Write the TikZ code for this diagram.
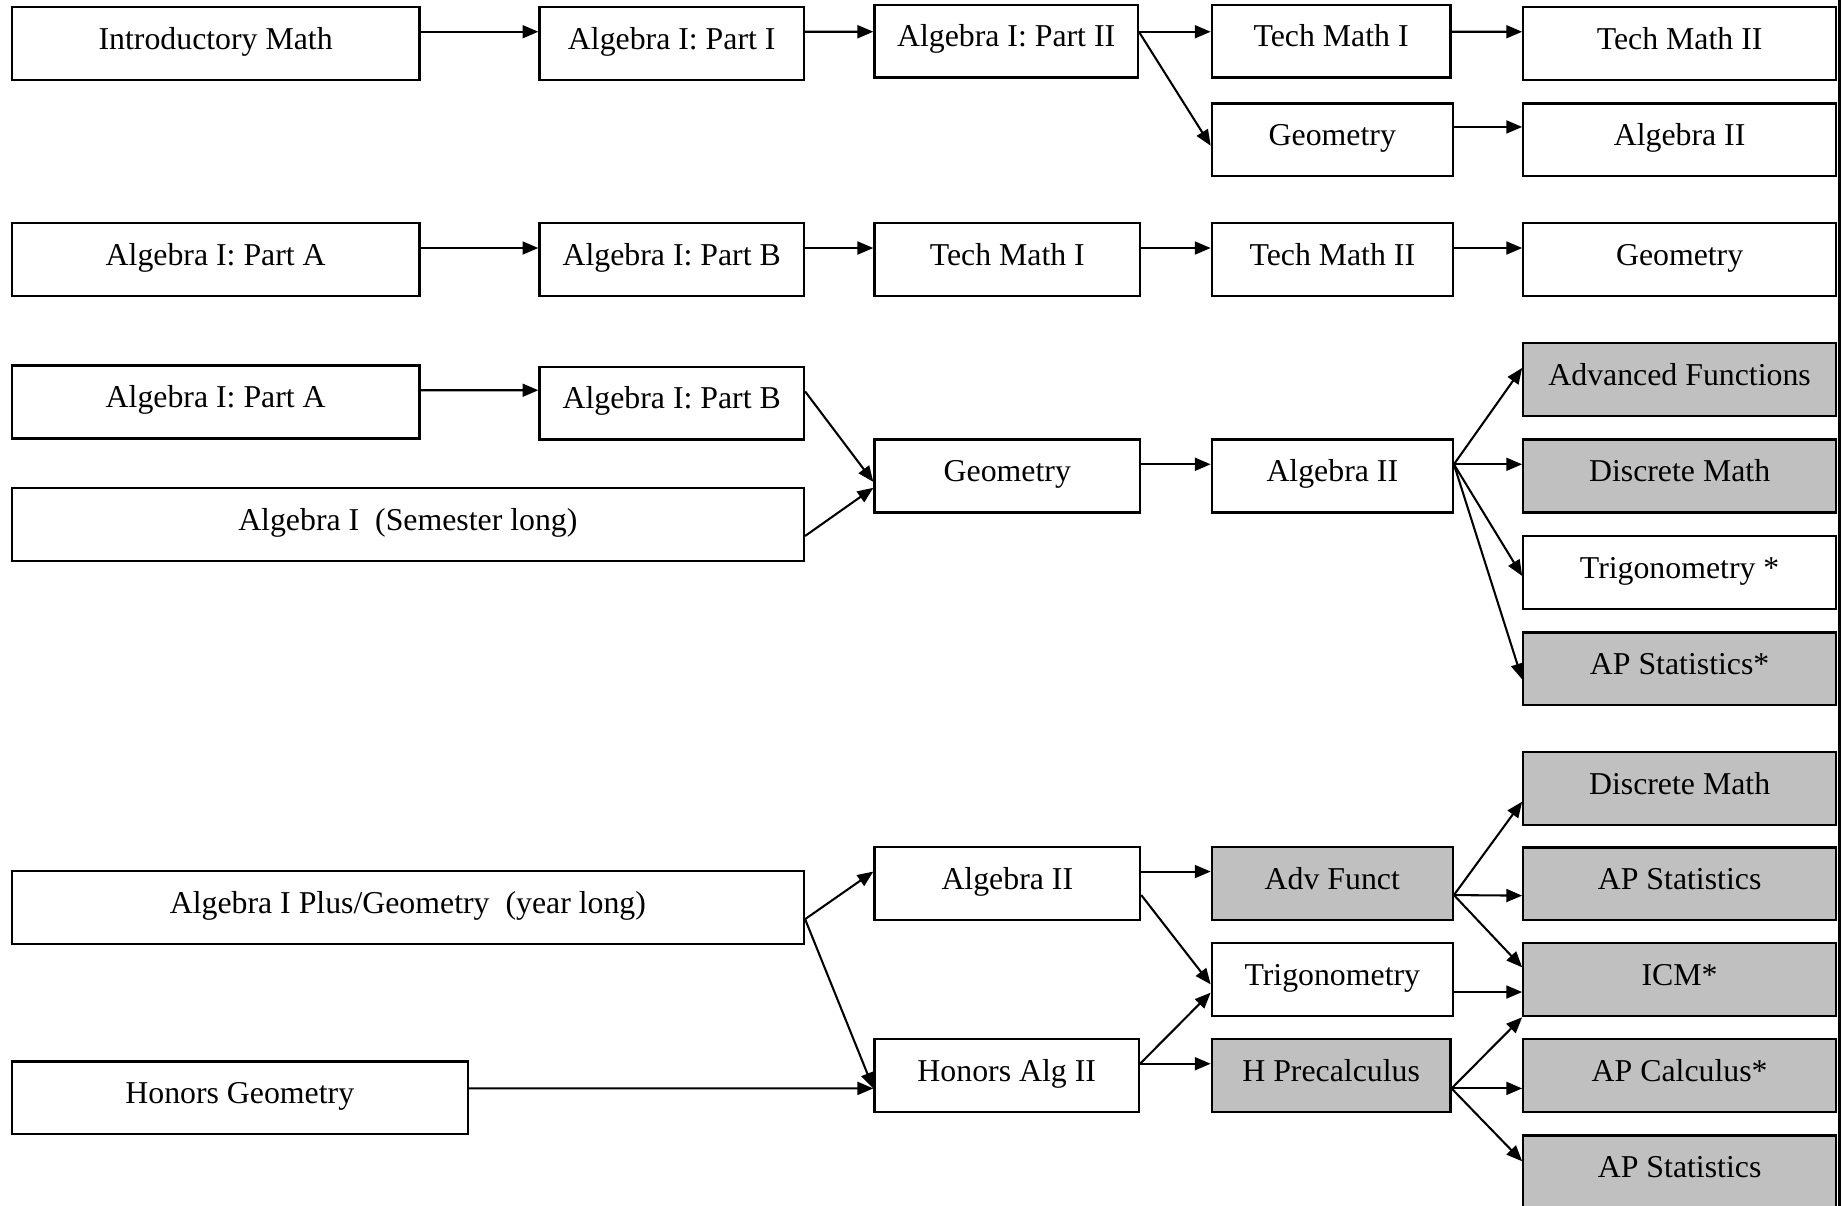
\documentclass[tikz,border=0pt]{standalone}
\usepackage{fontspec}
\setmainfont{Liberation Serif}
\usetikzlibrary{arrows.meta}
\definecolor{silver}{RGB}{192,192,192}
\begin{document}
\begin{tikzpicture}[x=0.1mm, y=-0.1mm,
		course/.style={draw, line width=0.55pt, minimum height=6.2mm, inner sep=0pt,
			font=\fontsize{7.7}{9}\selectfont, text height=6.2pt, text depth=3.4pt},
		elective/.style={course, fill=silver},
		arr/.style={line width=0.5pt, -{Triangle[length=1.35mm, width=1.1mm]}}]
		\useasboundingbox (0,0) rectangle (1568,1026);
		\node[course, minimum width=34.7mm] (intro) at (183.5, 37) {Introductory Math};
		\node[course, minimum width=22.5mm] (a1p1) at (571.5, 37) {Algebra I: Part I};
		\node[course, minimum width=22.4mm] (a1p2) at (856, 35) {Algebra I: Part II};
		\node[course, minimum width=20.3mm] (tm1) at (1132.5, 35) {Tech Math I};
		\node[course, minimum width=26.6mm] (tm2) at (1429, 37) {Tech Math II};
		\node[course, minimum width=20.5mm] (geo1) at (1133.5, 119) {Geometry};
		\node[course, minimum width=26.6mm] (alg2a) at (1429, 119) {Algebra II};
		\node[course, minimum width=34.7mm] (a1pa) at (183.5, 221) {Algebra I: Part A};
		\node[course, minimum width=22.5mm] (a1pb) at (571.5, 221) {Algebra I: Part B};
		\node[course, minimum width=22.6mm] (tm1b) at (857, 221) {Tech Math I};
		\node[course, minimum width=20.5mm] (tm2b) at (1133.5, 221) {Tech Math II};
		\node[course, minimum width=26.6mm] (geo2) at (1429, 221) {Geometry};
		\node[course, minimum width=34.7mm] (a1pa3) at (183.5, 342) {Algebra I: Part A};
		\node[course, minimum width=22.5mm] (a1pb3) at (571.5, 343) {Algebra I: Part B};
		\node[course, minimum width=67.4mm] (sem) at (347, 446) {Algebra I~~(Semester long)};
		\node[course, minimum width=22.6mm] (geo3) at (857, 405) {Geometry};
		\node[course, minimum width=20.5mm] (alg2b) at (1133.5, 405) {Algebra II};
		\node[elective, minimum width=26.6mm] (advf) at (1429, 323) {Advanced Functions};
		\node[elective, minimum width=26.6mm] (disc1) at (1429, 405) {Discrete Math};
		\node[course, minimum width=26.6mm] (trig1) at (1429, 487) {Trigonometry *};
		\node[elective, minimum width=26.6mm] (aps1) at (1429, 569) {AP Statistics*};
		\node[elective, minimum width=26.6mm] (disc2) at (1429, 671) {Discrete Math};
		\node[course, minimum width=22.6mm] (alg2c) at (857, 751.5) {Algebra II};
		\node[elective, minimum width=20.5mm] (advf2) at (1133.5, 751.5) {Adv Funct};
		\node[elective, minimum width=26.6mm] (aps2) at (1429, 752) {AP Statistics};
		\node[course, minimum width=67.4mm] (plus) at (347, 772) {Algebra I Plus/Geometry~~(year long)};
		\node[course, minimum width=20.5mm] (trig2) at (1133.5, 833.5) {Trigonometry};
		\node[elective, minimum width=26.6mm] (icm) at (1429, 833.5) {ICM*};
		\node[course, minimum width=38.8mm] (hgeo) at (204, 934) {Honors Geometry};
		\node[course, minimum width=22.5mm] (halg2) at (856.5, 915) {Honors Alg II};
		\node[elective, minimum width=20.3mm] (hpre) at (1132.5, 915) {H Precalculus};
		\node[elective, minimum width=26.6mm] (apc) at (1429, 915) {AP Calculus*};
		\node[elective, minimum width=26.6mm] (aps3) at (1429, 997) {AP Statistics};
		\draw[arr] ([yshift=1mm]intro.east) -- ([yshift=1mm]a1p1.west);
		\draw[arr] ([yshift=1mm]a1p1.east) -- ([yshift=0.8mm]a1p2.west);
		\draw[arr] ([yshift=0.8mm]a1p2.east) -- ([yshift=0.8mm]tm1.west);
		\draw[arr] ([yshift=0.8mm]a1p2.east) -- ([yshift=-0.5mm]geo1.west);
		\draw[arr] ([yshift=0.8mm]tm1.east) -- ([yshift=1mm]tm2.west);
		\draw[arr] ([yshift=1.1mm]geo1.east) -- ([yshift=1.1mm]alg2a.west);
		\draw[arr] ([yshift=1mm]a1pa.east) -- ([yshift=1mm]a1pb.west);
		\draw[arr] ([yshift=1mm]a1pb.east) -- ([yshift=1mm]tm1b.west);
		\draw[arr] ([yshift=1mm]tm1b.east) -- ([yshift=1mm]tm2b.west);
		\draw[arr] ([yshift=1mm]tm2b.east) -- ([yshift=1mm]geo2.west);
		\draw[arr] ([yshift=1mm]a1pa3.east) -- ([yshift=1.1mm]a1pb3.west);
		\draw[arr] ([yshift=1mm]a1pb3.east) -- ([yshift=-0.5mm]geo3.west);
		\draw[arr] ([yshift=-1mm]sem.east) -- ([yshift=-1mm]geo3.west);
		\draw[arr] ([yshift=1mm]geo3.east) -- ([yshift=1mm]alg2b.west);
		\draw[arr] ([yshift=1mm]alg2b.east) -- ([yshift=1mm]advf.west);
		\draw[arr] ([yshift=1mm]alg2b.east) -- ([yshift=1mm]disc1.west);
		\draw[arr] ([yshift=1mm]alg2b.east) -- ([yshift=-0.3mm]trig1.west);
		\draw[arr] ([yshift=1mm]alg2b.east) -- ([yshift=-0.9mm]aps1.west);
		\draw[arr] ([yshift=-1mm]plus.east) -- ([yshift=1mm]alg2c.west);
		\draw[arr] ([yshift=-1mm]plus.east) -- ([yshift=-1.1mm]halg2.west);
		\draw[arr] ([yshift=0.8mm]hgeo.east) -- ([yshift=-1.1mm]halg2.west);
		\draw[arr] ([yshift=1mm]alg2c.east) -- ([yshift=1mm]advf2.west);
		\draw[arr] ([yshift=-1mm]alg2c.east) -- ([yshift=-0.4mm]trig2.west);
		\draw[arr] ([yshift=1mm]halg2.east) -- ([yshift=-1.1mm]trig2.west);
		\draw[arr] ([yshift=1mm]halg2.east) -- ([yshift=1mm]hpre.west);
		\draw[arr] ([yshift=-1mm]advf2.east) -- ([yshift=-1.1mm]disc2.west);
		\draw[arr] ([yshift=-1mm]advf2.east) -- ([yshift=-1mm]aps2.west);
		\draw[arr] ([yshift=-1mm]advf2.east) -- ([yshift=1.05mm]icm.west);
		\draw[arr] ([yshift=-1.05mm]trig2.east) -- ([yshift=-1.05mm]icm.west);
		\draw[arr] ([yshift=-1.1mm]hpre.east) -- (icm.south west);
		\draw[arr] ([yshift=-1.1mm]hpre.east) -- ([yshift=-1.1mm]apc.west);
		\draw[arr] ([yshift=-1.1mm]hpre.east) -- ([yshift=0.9mm]aps3.west);
		\draw[line width=0.6pt] (1565, 0) -- (1565, 1026);
	\end{tikzpicture}
\end{document}
